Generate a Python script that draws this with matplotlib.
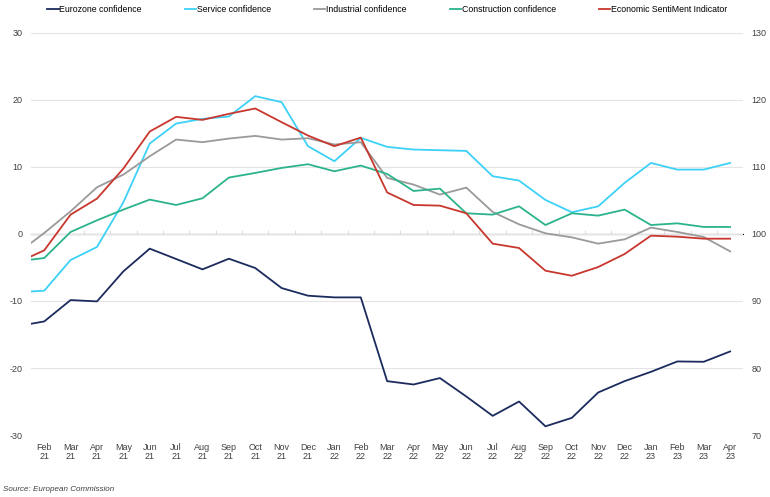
import numpy as np
import matplotlib
matplotlib.use("Agg")
import matplotlib.pyplot as plt

plt.rcParams["font.family"] = ["Liberation Sans", "DejaVu Sans"]
plt.rcParams["axes.unicode_minus"] = False

# Month labels (Feb 21 .. Apr 23); the first reading (Jan 21) sits on the left edge
months = ["Feb\n21", "Mar\n21", "Apr\n21", "May\n21", "Jun\n21", "Jul\n21", "Aug\n21",
          "Sep\n21", "Oct\n21", "Nov\n21", "Dec\n21", "Jan\n22", "Feb\n22", "Mar\n22",
          "Apr\n22", "May\n22", "Jun\n22", "Jul\n22", "Aug\n22", "Sep\n22", "Oct\n22",
          "Nov\n22", "Dec\n22", "Jan\n23", "Feb\n23", "Mar\n23", "Apr\n23"]
x_pos = np.concatenate([[-0.5], np.arange(len(months))])

# left axis series
eurozone = [-13.4, -13.05, -9.86, -10.06, -5.58, -2.19, -3.73, -5.28, -3.69, -5.08, -8.07,
            -9.21, -9.46, -9.46, -21.96, -22.46, -21.5, -24.25, -27.14, -25.0, -28.7,
            -27.44, -23.65, -21.96, -20.57, -19.02, -19.07, -17.53]
service = [-8.57, -8.47, -3.88, -1.94, 4.73, 13.5, 16.48, 17.18, 17.53, 20.57, 19.67,
           13.1, 10.86, 14.34, 13.0, 12.6, 12.5, 12.4, 8.62, 7.97, 5.08, 3.24,
           4.13, 7.62, 10.6, 9.61, 9.61, 10.6]
industrial = [-1.34, 0.15, 3.39, 6.97, 8.86, 11.6, 14.09, 13.7, 14.24, 14.64, 14.09,
              14.29, 13.35, 13.7, 8.37, 7.37, 5.88, 6.92, 3.29, 1.44, 0.1, -0.5,
              -1.44, -0.8, 0.95, 0.3, -0.45, -2.59]
construction = [-3.83, -3.59, 0.3, 2.04, 3.64, 5.13, 4.33, 5.33, 8.42, 9.11, 9.86,
                10.41, 9.36, 10.21, 8.96, 6.42, 6.77, 3.09, 2.89, 4.13, 1.34, 3.09,
                2.74, 3.64, 1.34, 1.59, 1.05, 1.05]
# right axis series
esi = [96.66, 97.56, 102.89, 105.28, 109.76, 115.29, 117.48, 117.03, 117.93, 118.73,
       116.68, 114.69, 113.1, 114.39, 106.2, 104.33, 104.23, 103.09, 98.56, 97.91,
       94.52, 93.77, 95.07, 97.01, 99.75, 99.6, 99.3, 99.3]

fig = plt.figure(figsize=(7.7, 4.97), dpi=100)
ax = fig.add_axes([0.0403, 0.1247, 0.925, 0.809])
ax2 = ax.twinx()

l1, = ax.plot(x_pos, eurozone, color="#1b2b5e", lw=1.3, label="Eurozone confidence")
l2, = ax.plot(x_pos, service, color="#3dd1f7", lw=1.3, label="Service confidence")
l3, = ax.plot(x_pos, industrial, color="#9a9a9a", lw=1.3, label="Industrial confidence")
l4, = ax.plot(x_pos, construction, color="#2bb38c", lw=1.3, label="Construction confidence")
l5, = ax2.plot(x_pos, esi, color="#c8372d", lw=1.3, label="Economic SentiMent Indicator")

ax.set_xlim(-0.5, len(months) - 0.5)
ax.set_ylim(-30, 30)
ax2.set_ylim(70, 130)
ax.set_yticks(range(-30, 31, 10))
ax2.set_yticks(range(70, 131, 10))

ax.grid(axis="y", color="#e4e4e4", lw=0.8)
ax.set_axisbelow(True)
for a in (ax, ax2):
    for s in a.spines.values():
        s.set_visible(False)

ax.set_xticks(np.arange(len(months)))
ax.set_xticklabels(months, fontsize=6.5, color="#404040", linespacing=1.0)
ax.tick_params(axis="x", length=0, pad=6)
ax.tick_params(axis="y", length=0, labelsize=6.5, labelcolor="#404040", pad=6)
ax2.tick_params(axis="y", length=0, labelsize=6.5, labelcolor="#404040", pad=6)

# category axis line at zero with boundary tick marks
secax = ax.secondary_xaxis(0.5)
secax.set_xticks(np.arange(len(months) - 1) + 0.5)
secax.set_xticklabels([])
secax.tick_params(axis="x", length=3, color="#e0e0e0", width=0.8)
secax.spines["bottom"].set_color("#e0e0e0")
secax.spines["bottom"].set_linewidth(0.8)

fig.legend(handles=[l1, l2, l3, l4, l5], loc="upper center", bbox_to_anchor=(0.503, 1.005),
           ncol=5, frameon=False, fontsize=6.3, handlelength=1.3, handletextpad=0.1,
           columnspacing=4.9)

fig.text(0.004, 0.012, "Source: European Commission", fontsize=5.8, style="italic",
         color="#404040")

fig.savefig("out.png", dpi=100)
